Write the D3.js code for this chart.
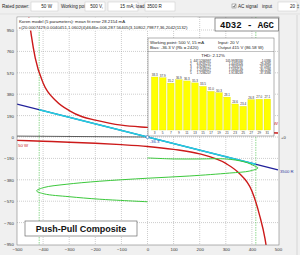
<!DOCTYPE html>
<html>
<head>
<meta charset="utf-8">
<script src="https://cdn.jsdelivr.net/npm/d3@7"></script>
<style>
  html, body { margin: 0; padding: 0; background: #f0f0f0; }
  svg { display: block; font-family: 'Liberation Sans', Arial, sans-serif; }
</style>
</head>
<body>
<svg id="chart" width="300" height="255"></svg>
<script>
// axis ticks (V across, mA up)
const xTicks = [-500, -400, -300, -200, -100, 0, 100, 200, 300, 400, 500];
const yTicks = [950, 760, 570, 380, 190, 0, -190, -380, -570, -760, -950];

// 50 W dissipation curves
const powerUpperV = [-455, -445, -430, -400, -350, -300, -250, -200, -100, 0, 100, 200, 300, 400, 500];
const powerUpperI = [1070, 900, 700, 480, 320, 235, 180, 150, 105, 85, 70, 60, 50, 42, 36];
const powerLowerV = [-500, -400, -300, -200, -100, 0, 100, 200, 300, 350, 400, 430, 450, 462];
const powerLowerI = [-30, -38, -46, -56, -68, -84, -110, -150, -235, -320, -480, -700, -900, -1080];

// composite load line (3500 R) and the swing on it
const loadV = [-500, 500];
const loadI = [292, -292];
const swingV = [-415, 0, 415];
const swingI = [242, 0, -242];
const zeroV = [-500, 0];
const zeroI = [8, 0];

// green trace
const traceV = [0, 104, 200, 300, 373, 411, 423, 392, 315, 162, 0, -185, -312, -396, -425, -396, -300, -185, 0];
const traceI = [-186, -195, -195, -195, -222, -258, -275, -302, -320, -346, -366, -393, -420, -448, -478, -505, -530, -552, -575];
const swingMarks = [-415, 415];

// harmonics panel
const harmonics = [3, 5, 7, 9, 11, 13, 15, 17, 19, 21, 23, 25, 27, 29, 31];
const harmonicDb = [38.3, 37.9, 35.2, 36.9, 36.3, 35.3, 33.5, 31.0, 30.3, 28.1, 24.6, 23.4, 26.8, 27.0, 27.1];
const tableRows = [
  ['1', '447.5266997', '105.9938330', '1.0386'],
  ['2', '6.8295237', '1.4459326', '-29.4985'],
  ['3', '4.9286127', '1.2843237', '-37.0981'],
  ['4', '1.2584027', '1.5694149', '-30.1286'],
  ['5', '1.7286207', '1.9138249', '-37.3386']
];

const svg = d3.select('#chart');

const x = d3.scaleLinear().domain([-500, 500]).range([17, 278]);
const y = d3.scaleLinear().domain([-950, 950]).range([244, 30]);

const plot = { left: 17, top: 17, right: 279, bottom: 245 };

// ---- toolbar ----
const bar = svg.append('g').attr('font-size', 4.6).attr('fill', '#222');
const label = (tx, ty, s, anchor) => bar.append('text').attr('x', tx).attr('y', ty)
  .attr('text-anchor', anchor || 'start').text(s);
const box = (bx, w) => bar.append('rect').attr('x', bx).attr('y', 2).attr('width', w).attr('height', 9)
  .attr('fill', '#fff').attr('stroke', '#c8c8c8').attr('stroke-width', 0.5);

label(2, 8, 'Rated power:');
box(31, 27); label(52, 8, '50 W', 'end');
label(61, 8, 'Working point:');
box(85, 20); label(103, 8, '500 V,', 'end');
box(108, 30); label(120, 8, '15 mA; load');
box(145, 30); label(147, 8, '3500 R');
bar.append('rect').attr('x', 232).attr('y', 4).attr('width', 4).attr('height', 4)
  .attr('fill', '#fff').attr('stroke', '#555').attr('stroke-width', 0.4);
bar.append('path').attr('d', 'M232.8,6 L234,7.3 L235.4,4.6').attr('fill', 'none').attr('stroke', '#222').attr('stroke-width', 0.6);
label(238, 8, 'AC signal');
label(262, 8, 'input');
box(278, 19); label(295, 8, '20', 'end');
label(298, 8, '‡', 'middle');

svg.append('line').attr('x1', 0).attr('x2', 300).attr('y1', 14).attr('y2', 14)
  .attr('stroke', '#d8d8d8').attr('stroke-width', 0.6);

// ---- plot area ----
svg.append('rect')
  .attr('x', plot.left).attr('y', plot.top)
  .attr('width', plot.right - plot.left).attr('height', plot.bottom - plot.top)
  .attr('fill', '#fff');

svg.append('defs').append('clipPath').attr('id', 'clip')
  .append('rect')
  .attr('x', plot.left).attr('y', plot.top)
  .attr('width', plot.right - plot.left).attr('height', plot.bottom - plot.top);

const grid = svg.append('g').attr('stroke', '#9a9a9a').attr('stroke-width', 0.5).attr('stroke-dasharray', '1,1');
grid.selectAll('line.vx')
  .data(xTicks.filter(d => d > -500 && d < 500))
  .join('line')
  .attr('x1', d => x(d)).attr('x2', d => x(d))
  .attr('y1', plot.top).attr('y2', plot.bottom);
grid.selectAll('line.hy')
  .data(yTicks.filter(d => d > -950))
  .join('line')
  .attr('x1', plot.left).attr('x2', plot.right)
  .attr('y1', d => y(d)).attr('y2', d => y(d));

// axes labels
const xAxis = d3.axisBottom(x).tickValues(xTicks).tickSize(0).tickPadding(3);
svg.append('g').attr('transform', `translate(0,${plot.bottom})`).call(xAxis)
  .call(g => g.select('.domain').remove())
  .call(g => g.selectAll('text').attr('font-size', 4.4).attr('fill', '#333').attr('font-family', 'Liberation Sans, Arial, sans-serif'));

const yAxis = d3.axisLeft(y).tickValues(yTicks).tickSize(0).tickPadding(3);
svg.append('g').attr('transform', `translate(${plot.left},0)`).call(yAxis)
  .call(g => g.select('.domain').remove())
  .call(g => g.selectAll('text').attr('font-size', 4.4).attr('fill', '#333').attr('font-family', 'Liberation Sans, Arial, sans-serif'));

const curves = svg.append('g').attr('clip-path', 'url(#clip)');

const lineOf = (vs, is, curve) => d3.line()
  .x((d, i) => x(vs[i]))
  .y((d, i) => y(is[i]))
  .curve(curve || d3.curveLinear)(vs);

// swing markers
curves.selectAll('line.swing')
  .data(swingMarks)
  .join('line')
  .attr('x1', d => x(d)).attr('x2', d => x(d))
  .attr('y1', plot.top).attr('y2', plot.bottom)
  .attr('stroke', '#44c044').attr('stroke-width', 0.6).attr('stroke-dasharray', '1.5,1');

curves.append('path').attr('d', lineOf(zeroV, zeroI))
  .attr('fill', 'none').attr('stroke', '#333').attr('stroke-width', 0.8);

curves.append('path').attr('d', lineOf(powerUpperV, powerUpperI, d3.curveMonotoneX))
  .attr('fill', 'none').attr('stroke', '#cc1a1a').attr('stroke-width', 1.4);
curves.append('path').attr('d', lineOf(powerLowerV, powerLowerI, d3.curveMonotoneX))
  .attr('fill', 'none').attr('stroke', '#cc1a1a').attr('stroke-width', 1.4);

curves.append('path').attr('d', lineOf(loadV, loadI))
  .attr('fill', 'none').attr('stroke', '#20209a').attr('stroke-width', 1.2);
curves.append('path').attr('d', lineOf(swingV, swingI))
  .attr('fill', 'none').attr('stroke', '#22d0e0').attr('stroke-width', 1.5);

curves.append('path').attr('d', lineOf(traceV, traceI, d3.curveCatmullRom))
  .attr('fill', 'none').attr('stroke', '#3cc83c').attr('stroke-width', 1);

// working point
svg.append('circle').attr('cx', x(0)).attr('cy', y(0)).attr('r', 1.6)
  .attr('fill', '#fff').attr('stroke', '#2a6fc0').attr('stroke-width', 0.7);
svg.append('text').attr('x', x(0) + 2).attr('y', y(0) + 6)
  .attr('font-size', 4.4).attr('fill', '#3050b0').text('-36.3');

svg.append('text').attr('x', plot.left + 1).attr('y', y(-90))
  .attr('font-size', 4.4).attr('fill', '#cc1a1a').text('50 W');
svg.append('text').attr('x', plot.right - 1).attr('y', y(110))
  .attr('font-size', 4.4).attr('fill', '#cc1a1a').attr('text-anchor', 'end').text('50 W');

// outside labels on the right
svg.append('text').attr('x', 281).attr('y', y(0) + 1.5)
  .attr('font-size', 4.2).attr('fill', '#333').text('+0');
svg.append('text').attr('x', 280).attr('y', y(loadI[1]) + 3)
  .attr('font-size', 4.2).attr('fill', '#3040a0').text('3500 R');

// frame
svg.append('rect')
  .attr('x', plot.left).attr('y', plot.top)
  .attr('width', plot.right - plot.left).attr('height', plot.bottom - plot.top)
  .attr('fill', 'none').attr('stroke', '#808080').attr('stroke-width', 0.6);

// model text
svg.append('rect').attr('x', plot.left + 0.5).attr('y', plot.top + 0.5).attr('width', 180).attr('height', 13)
  .attr('fill', '#fff');
svg.append('text').attr('x', 19).attr('y', 22.5).attr('font-size', 4.3).attr('fill', '#222')
  .text('Koren model (5 parameters): mean fit error 28.2154 mA');
svg.append('text').attr('x', 19).attr('y', 28.5).attr('font-size', 4.3).attr('fill', '#222')
  .text('c(20.0007429,0.0040451,1.0602(4)4646e-006,287.56405(3,10802,79877,36,2042(1132)');

// tube name
svg.append('rect').attr('x', 215).attr('y', 18).attr('width', 63.5).attr('height', 13)
  .attr('fill', '#fff').attr('stroke', '#444').attr('stroke-width', 0.6);
svg.append('text').attr('x', 247).attr('y', 28).attr('text-anchor', 'middle')
  .attr('font-family', 'Liberation Mono, DejaVu Sans Mono, monospace').attr('font-weight', 'bold')
  .attr('font-size', 9).attr('fill', '#111').text('4D32 - AGC');

// ---- harmonics panel ----
const panel = svg.append('g');
panel.append('rect').attr('x', 148).attr('y', 38).attr('width', 126).attr('height', 98)
  .attr('fill', '#fff').attr('stroke', '#666').attr('stroke-width', 0.5);
const ptext = (tx, ty, s, anchor, size) => panel.append('text').attr('x', tx).attr('y', ty)
  .attr('font-size', size || 4.3).attr('fill', '#222').attr('text-anchor', anchor || 'start').text(s);
ptext(150, 43.5, 'Working point: 500 V, 15 mA');
ptext(150, 49, 'Bias: -36.3 V (Rk = 2420)');
ptext(218, 43.5, 'Input: 20 V');
ptext(218, 49, 'Output 415 V (86.58 W)');
panel.append('line').attr('x1', 148).attr('x2', 274).attr('y1', 51.5).attr('y2', 51.5)
  .attr('stroke', '#666').attr('stroke-width', 0.4);
ptext(213, 57, 'THD: 2.12%', 'middle');

tableRows.forEach((row, r) => {
  const ty = 62 + r * 3.1;
  ptext(190, ty, row[0], 'start', 3);
  ptext(211, ty, row[1], 'end', 3);
  ptext(243, ty, row[2], 'end', 3);
  ptext(271, ty, row[3], 'end', 3);
});

const hx = d3.scaleBand().domain(harmonics).range([151, 271]).paddingInner(0.18).paddingOuter(0.05);
const hy = d3.scaleLinear().domain([11.4, 38.3]).range([130, 77]);

panel.selectAll('rect.hbar')
  .data(harmonics)
  .join('rect')
  .attr('class', 'hbar')
  .attr('x', d => hx(d))
  .attr('width', hx.bandwidth())
  .attr('y', (d, i) => hy(harmonicDb[i]))
  .attr('height', (d, i) => 130 - hy(harmonicDb[i]))
  .attr('fill', '#ffff00')
  .attr('stroke', '#d8d800').attr('stroke-width', 0.3);

panel.selectAll('text.hval')
  .data(harmonics)
  .join('text')
  .attr('class', 'hval')
  .attr('x', d => hx(d) + hx.bandwidth() / 2)
  .attr('y', (d, i) => hy(harmonicDb[i]) - 1)
  .attr('text-anchor', 'middle')
  .attr('font-size', 3)
  .attr('fill', '#333')
  .text((d, i) => harmonicDb[i].toFixed(1));

const hAxis = d3.axisBottom(hx).tickSize(0).tickPadding(1.5);
panel.append('g').attr('transform', 'translate(0,130)').call(hAxis)
  .call(g => g.select('.domain').remove())
  .call(g => g.selectAll('text').attr('font-size', 3.2).attr('fill', '#333').attr('font-family', 'Liberation Sans, Arial, sans-serif'));

// push-pull title
svg.append('rect').attr('x', 25).attr('y', 221).attr('width', 112).attr('height', 15)
  .attr('fill', '#fff').attr('stroke', '#555').attr('stroke-width', 0.6);
svg.append('text').attr('x', 81).attr('y', 232).attr('text-anchor', 'middle')
  .attr('font-weight', 'bold').attr('font-size', 9).attr('fill', '#111')
  .text('Push-Pull Composite');

// window edge
svg.append('line').attr('x1', 297).attr('x2', 297).attr('y1', 15).attr('y2', 255)
  .attr('stroke', '#c8c8c8').attr('stroke-width', 0.6);
</script>
</body>
</html>
